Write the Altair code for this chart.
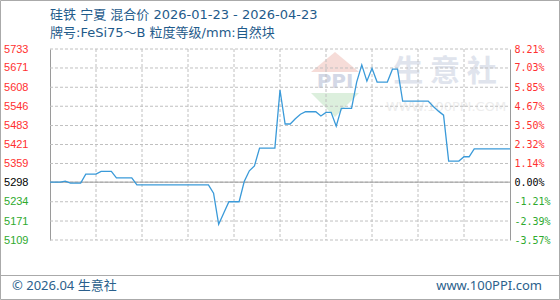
import altair as alt
import pandas as pd

# ---- data ----
dates = ["2026-01-23", "2026-01-25", "2026-01-26", "2026-01-27", "2026-01-29", "2026-01-30",
         "2026-02-01", "2026-02-02", "2026-02-04", "2026-02-05", "2026-02-08", "2026-02-09",
         "2026-02-23", "2026-02-24", "2026-02-25", "2026-02-26", "2026-02-27", "2026-03-01",
         "2026-03-02", "2026-03-03", "2026-03-04", "2026-03-05", "2026-03-08", "2026-03-09",
         "2026-03-10", "2026-03-11", "2026-03-12", "2026-03-13", "2026-03-14", "2026-03-16",
         "2026-03-17", "2026-03-18", "2026-03-19", "2026-03-20", "2026-03-21", "2026-03-23",
         "2026-03-24", "2026-03-25", "2026-03-26", "2026-03-27", "2026-03-28", "2026-03-30",
         "2026-03-31", "2026-04-01", "2026-04-02", "2026-04-07", "2026-04-08", "2026-04-09",
         "2026-04-10", "2026-04-11", "2026-04-13", "2026-04-14", "2026-04-15", "2026-04-16",
         "2026-04-23"]
prices = [5298, 5298, 5301, 5295, 5295, 5324,
          5324, 5333, 5333, 5312, 5312, 5289,
          5289, 5262, 5160, 5197, 5234, 5234,
          5300, 5335, 5351, 5409, 5409, 5599,
          5488, 5488, 5505, 5520, 5528, 5528,
          5514, 5526, 5526, 5481, 5539, 5539,
          5625, 5681, 5628, 5670, 5625, 5625,
          5667, 5667, 5563, 5563, 5545, 5530,
          5517, 5367, 5367, 5381, 5381, 5407,
          5407]
base_price = 5298
y_ticks = [5733, 5671, 5608, 5546, 5483, 5421, 5359, 5298, 5234, 5171, 5109]
pct_labels = ["8.21%", "7.03%", "5.85%", "4.67%", "3.50%", "2.32%", "1.14%",
              "0.00%", "-1.21%", "-2.39%", "-3.57%"]
x_label_dates = ["2026-01-23", "2026-01-31", "2026-02-09", "2026-02-18", "2026-02-27",
                 "2026-03-08", "2026-03-17", "2026-03-26", "2026-04-04", "2026-04-13",
                 "2026-04-22"]
grid_dates = ["2026-02-01", "2026-02-10", "2026-02-19", "2026-02-28", "2026-03-09",
              "2026-03-18", "2026-03-27", "2026-04-05", "2026-04-14"]
x_start, x_end = "2026-01-23", "2026-04-23"
title_text = "硅铁 宁夏 混合价 2026-01-23 - 2026-04-23"
subtitle_text = "牌号:FeSi75～B 粒度等级/mm:自然块"
footer_left = "© 2026.04 生意社"
footer_right = "www.100PPI.com"

# ---- helpers ----
def dt(s):
    y, m, d = map(int, s.split("-"))
    return alt.DateTime(year=y, month=m, date=d, utc=True)

RED, GREEN, BLUE_TXT = "#ff3030", "#2eaa2e", "#1d4f7e"
GRID = "#c0c0c0"
AXIS = "#9a9a9a"
FONT_CJK = "Noto Sans CJK SC"
FONT_MIX = "Noto Sans, Noto Sans CJK SC"
FONT_TITLE = "DejaVu Sans, Noto Sans CJK SC"

color_expr = (f"datum.value > {base_price} ? '{RED}' : "
              f"(datum.value < {base_price} ? '{GREEN}' : '#000000')")
pct_expr = "".join(f"datum.value == {v} ? '{p}' : " for v, p in zip(y_ticks, pct_labels)) + "''"

xscale = alt.Scale(type="utc", domain=[dt(x_start), dt(x_end)])
yscale = alt.Scale(domain=[min(y_ticks), max(y_ticks)], nice=False, zero=False)

df = pd.DataFrame({"date": dates, "price": prices})

x_axis = alt.Axis(values=[dt(s) for s in x_label_dates],
                  labelExpr="utcFormat(datum.value, '%m/%d')",
                  grid=False, ticks=False, labelPadding=10, labelFlush=False,
                  labelColor=BLUE_TXT, labelFont="DejaVu Sans", labelFontSize=10,
                  domainColor=AXIS, title=None)
left_axis = alt.Axis(values=y_ticks, grid=False, format="d",
                     ticks=False, labelPadding=22, labelFont="Liberation Sans",
                     labelFontSize=11, labelColor=alt.expr(color_expr),
                     domainColor=AXIS, title=None, orient="left")
right_axis = alt.Axis(values=y_ticks, grid=False,
                      ticks=False, orient="right",
                      labelExpr=pct_expr, labelPadding=4, labelFont="DejaVu Sans Mono",
                      labelFontSize=10, labelColor=alt.expr(color_expr),
                      domainColor=AXIS, title=None)

one = pd.DataFrame({"k": [0]})

# watermark
roof = alt.Chart(one).mark_point(
    shape="M-1,0.42L0,-0.42L1,0.42Z", filled=True, color="#f6dcd8", opacity=1, size=2304
).encode(x=alt.value(285), y=alt.value(13))
vee = alt.Chart(one).mark_point(
    shape="M-1,-0.5L0,0.5L1,-0.5Z", filled=True, color="#dcefdd", opacity=1, size=2304
).encode(x=alt.value(285), y=alt.value(56))
ppi = alt.Chart(pd.DataFrame({"t": ["PPI"]})).mark_text(
    font="DejaVu Sans", fontSize=20, fontWeight="bold", color="#d3d8e6", baseline="middle"
).encode(text="t:N", x=alt.value(285), y=alt.value(33))
wm1 = alt.Chart(pd.DataFrame({"t": ["生 意 社"]})).mark_text(
    font=FONT_CJK, fontSize=30, fontWeight="bold", color="#e0e4ed", baseline="middle"
).encode(text="t:N", x=alt.value(395), y=alt.value(23))
wm2 = alt.Chart(pd.DataFrame({"t": ["WWW.100PPI.COM"]})).mark_text(
    font="DejaVu Sans", fontSize=13, color="#ededed", baseline="middle"
).encode(text="t:N", x=alt.value(396), y=alt.value(58))

vgrid = alt.Chart(pd.DataFrame({"date": grid_dates})).mark_rule(
    color=GRID, strokeDash=[3, 2], strokeWidth=1
).encode(x=alt.X("date:T", scale=xscale, axis=None))

# horizontal grid and the base-price line share one rule layer (grid dashed, base solid)
hrules_df = pd.DataFrame({
    "price": y_ticks + [base_price],
    "kind": ["grid"] * len(y_ticks) + ["base"],
})
hrules = alt.Chart(hrules_df).mark_rule(strokeWidth=1).encode(
    y=alt.Y("price:Q", scale=yscale, axis=right_axis),
    x=alt.value(0), x2=alt.value(460),
    color=alt.Color("kind:N", scale=alt.Scale(domain=["grid", "base"], range=[GRID, AXIS]),
                    legend=None),
    strokeDash=alt.StrokeDash("kind:N",
                              scale=alt.Scale(domain=["grid", "base"], range=[[3, 2], [1, 0]]),
                              legend=None),
    order=alt.Order("kind:N", sort="descending"),
)

line = alt.Chart(df).mark_line(color="#3a9ad9", strokeWidth=1.3).encode(
    x=alt.X("date:T", scale=xscale, axis=x_axis),
    y=alt.Y("price:Q", scale=yscale, axis=left_axis),
)

title = alt.Chart(pd.DataFrame({"t": [title_text]})).mark_text(
    font=FONT_TITLE, fontSize=13, color="#1f5b8b", align="left", baseline="middle"
).encode(text="t:N", x=alt.value(0), y=alt.value(-34))
subtitle = alt.Chart(pd.DataFrame({"t": [subtitle_text]})).mark_text(
    font=FONT_TITLE, fontSize=13, color="#1f5b8b", align="left", baseline="middle"
).encode(text="t:N", x=alt.value(0), y=alt.value(-16))

sep = alt.Chart(one).mark_rule(color="#aaaaaa", strokeWidth=1).encode(
    x=alt.value(-50), x2=alt.value(510), y=alt.value(226.5))
border = alt.Chart(one).mark_rect(fillOpacity=0, stroke="#aaaaaa", strokeWidth=1).encode(
    x=alt.value(-49.5), x2=alt.value(509.5), y=alt.value(-48.5), y2=alt.value(250.5))
f_left = alt.Chart(pd.DataFrame({"t": [footer_left]})).mark_text(
    font=FONT_MIX, fontSize=13, color="#2b5f8c", align="left", baseline="middle"
).encode(text="t:N", x=alt.value(-38), y=alt.value(237))
f_right = alt.Chart(pd.DataFrame({"t": [footer_right]})).mark_text(
    font=FONT_MIX, fontSize=13, color="#2b5f8c", align="right", baseline="middle"
).encode(text="t:N", x=alt.value(492), y=alt.value(237))

chart = alt.layer(
    roof, vee, ppi, wm1, wm2, vgrid, hrules, line,
    title, subtitle, sep, border, f_left, f_right
).resolve_axis(y="independent").properties(
    width=460, height=191,
    padding={"left": 50, "top": 49, "right": 50, "bottom": 60},
    autosize=alt.AutoSizeParams(type="none"),
    background="white",
).configure_view(stroke=None)

chart.save("out.html", embed_options={"renderer": "svg", "actions": False})
